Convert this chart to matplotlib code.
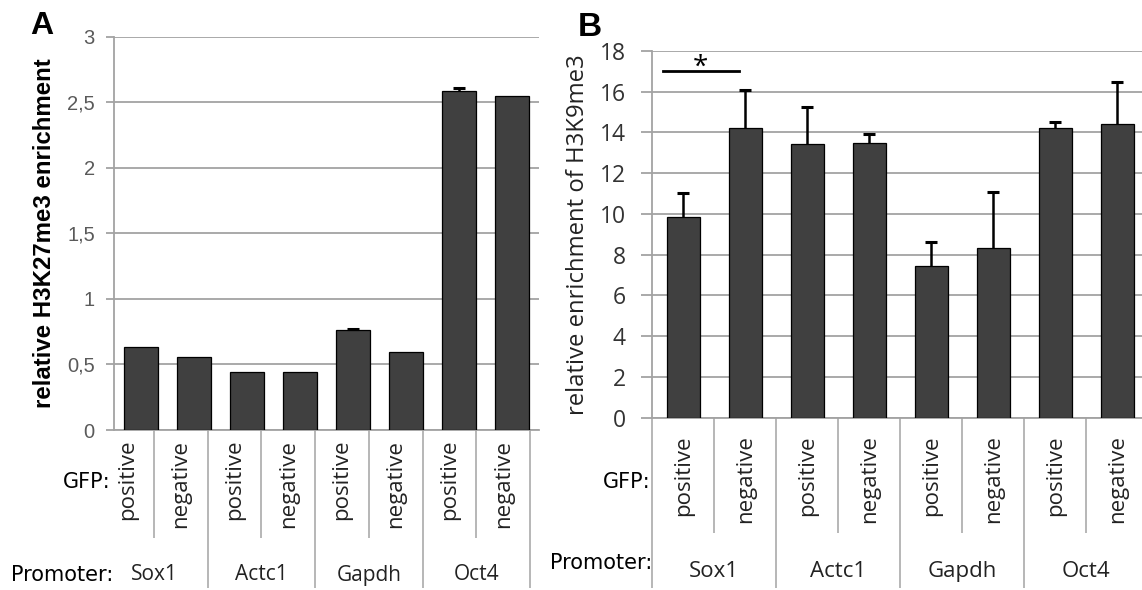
import numpy as np
import matplotlib
matplotlib.use("Agg")
import matplotlib.pyplot as plt

W, H = 1142, 590

promoters = ["Sox1", "Actc1", "Gapdh", "Oct4"]
gfp = ["positive", "negative"]

# A: relative H3K27me3 enrichment (only two bars show a visible error bar)
a_vals = [0.636, 0.559, 0.442, 0.442, 0.763, 0.597, 2.588, 2.548]
a_err = [0, 0, 0, 0, 0.010, 0, 0.018, 0]
a_ticks = [0, 0.5, 1, 1.5, 2, 2.5, 3]
a_ticklabels = ["0", "0,5", "1", "1,5", "2", "2,5", "3"]

# B: relative enrichment of H3K9me3
b_vals = [9.83, 14.24, 13.42, 13.47, 7.45, 8.31, 14.24, 14.42]
b_err = [1.18, 1.85, 1.85, 0.47, 1.16, 2.75, 0.29, 2.06]
b_ticks = list(range(0, 19, 2))

BAR = "#404040"
GRID = "#a3a3a3"
CAL = ["Open Sans", "DejaVu Sans"]


def px_axes(fig, l, t, r, b):
    return fig.add_axes([l / W, 1 - b / H, (r - l) / W, (b - t) / H])


def bars(ax, vals, err, width):
    x = np.arange(len(vals))
    ax.bar(x, vals, width=width, color=BAR, edgecolor="black", lw=0.9, zorder=3)
    err = np.asarray(err)
    m = err > 0
    _, caps, _ = ax.errorbar(x[m], np.asarray(vals)[m],
                             yerr=[np.zeros(m.sum()), err[m]],
                             fmt="none", ecolor="black", elinewidth=1.8,
                             capsize=4.5, capthick=2.2, zorder=4)
    caps[0].set_visible(False)  # plus-only error bars, no cap on the bar top
    ax.set_xlim(-0.5, len(vals) - 0.5)
    ax.set_xticks([])
    ax.grid(axis="y", color=GRID, lw=1.3, zorder=0)
    ax.set_axisbelow(True)
    for s in ["top", "right"]:
        ax.spines[s].set_visible(False)
    for s in ["left", "bottom"]:
        ax.spines[s].set_color(GRID)
        ax.spines[s].set_linewidth(1.3)
    ax.tick_params(axis="y", length=6, width=1.3, color=GRID)


def table(ax, short_end, long_end, lab_top, prom_y, left_line, fs_lab, fs_prom):
    ax.set_xlim(0, 8)
    ax.set_ylim(long_end + 2, 0)
    ax.axis("off")
    for k in range(8):
        xs = k + 1
        end = short_end if xs % 2 else long_end
        ax.vlines(xs, 0, end, color=GRID, lw=1.1, clip_on=False)
        ax.text(k + 0.5, lab_top, gfp[k % 2], rotation=90, ha="center", va="top",
                fontsize=fs_lab, family=CAL, color="#222222")
    if left_line:
        ax.vlines(0, 0, long_end, color=GRID, lw=1.1, clip_on=False)
    for j, p in enumerate(promoters):
        ax.text(2 * j + 1, prom_y, p, ha="center", va="center",
                fontsize=fs_prom, family=CAL, color="#222222")


fig = plt.figure(figsize=(W / 100, H / 100), dpi=100)

# ---- panel A
axA = px_axes(fig, 114.3, 36.7, 539, 430)
bars(axA, a_vals, a_err, 0.64)
axA.set_ylim(0, 3)
axA.set_yticks(a_ticks)
axA.set_yticklabels(a_ticklabels, fontsize=14.5, color="#5a5a5a",
                    family="Liberation Sans")
axA.tick_params(axis="y", pad=8)
axA.set_ylabel("relative H3K27me3 enrichment", fontsize=17.3, fontweight="bold",
               family="Liberation Sans")
axA.yaxis.set_label_coords(-58 / 425, 0.5)

tA = px_axes(fig, 100.3, 430, 530, 590)
table(tA, 108, 158, 10, 145, False, 16, 15)

# ---- panel B
axB = px_axes(fig, 652.3, 51, 1148.3, 417.7)
bars(axB, b_vals, b_err, 0.54)
axB.set_ylim(0, 18)
axB.set_yticks(b_ticks)
axB.set_yticklabels([str(t) for t in b_ticks], fontsize=16.5, color="#333333",
                    family=CAL)
axB.tick_params(axis="y", length=8, pad=11)
axB.set_ylabel("relative enrichment of H3K9me3", fontsize=17.2, family=CAL,
               color="#222222")
axB.yaxis.set_label_coords(-62 / 496, 0.5)
axB.plot([-0.32, 0.90], [17.0, 17.0], color="black", lw=2, clip_on=False, zorder=5)
axB.text(0.28, 16.5, "*", ha="center", va="bottom", fontsize=20, family=CAL)

tB = px_axes(fig, 652.3, 417.7, 1148.3, 590)
table(tB, 112, 165.3, 17.3, 149, True, 16, 16)

# row captions
for x_r, gy, py in [(111, 482, 575), (650, 482, 563)]:
    fig.text(x_r / W, 1 - gy / H, "GFP:", ha="right", va="center",
             fontsize=15, family="DejaVu Sans")
    fig.text((x_r + 2) / W, 1 - py / H, "Promoter:", ha="right", va="center",
             fontsize=15, family="DejaVu Sans")

# panel letters
fig.text(42 / W, 1 - 26 / H, "A", ha="center", va="center", fontsize=23,
         fontweight="bold", family="Liberation Sans")
fig.text(590 / W, 1 - 27 / H, "B", ha="center", va="center", fontsize=24,
         fontweight="bold", family="Liberation Sans")

fig.savefig("out.png", dpi=100)
